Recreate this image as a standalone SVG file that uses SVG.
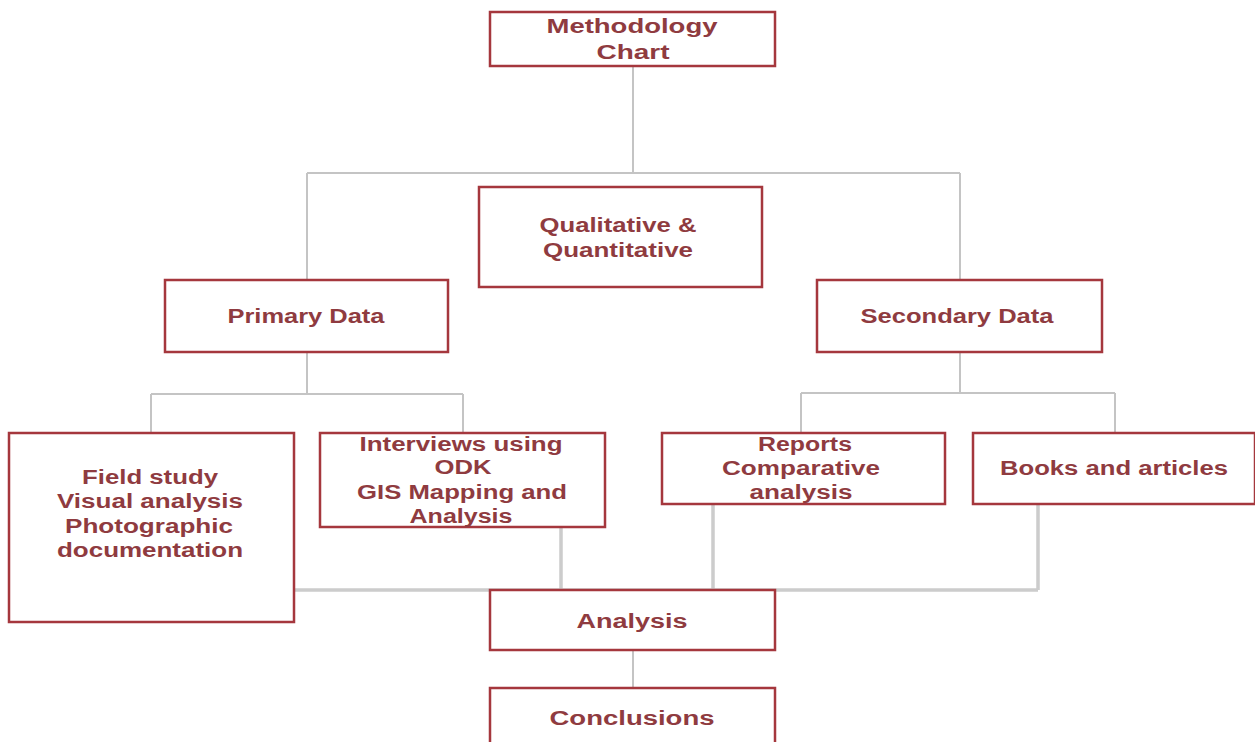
<svg xmlns="http://www.w3.org/2000/svg" width="1255" height="742" viewBox="0 0 1255 742">
<style>
.box{fill:#ffffff;stroke:#a5373d;stroke-width:2.5}
.lbl{font-family:"Liberation Sans",Arial,sans-serif;font-weight:bold;font-size:20px;fill:#8f3b40;text-anchor:middle}
.c1{stroke:#c4c4c4;stroke-width:2;fill:none}
.c2{stroke:#cccccc;stroke-width:3.5;fill:none}
</style>
<rect width="1255" height="742" fill="#ffffff"/>
<g id="connectors">
<path class="c1" d="M633 66V173M307 173H960M307 173V280M960 173V280"/>
<path class="c1" d="M307 352V394M151 394H463M151 394V433M463 394V433"/>
<path class="c1" d="M960 352V393M801 393H1115M801 393V433M1115 393V433"/>
<path class="c2" d="M294 590H1038M561 527V590M713 504V590M1038 504V590"/>
<path class="c1" d="M633 650V688"/>
</g>
<g id="methodology">
<rect class="box" x="490" y="12" width="285" height="54"/>
<text class="lbl" x="632" y="33" textLength="171" lengthAdjust="spacingAndGlyphs">Methodology</text>
<text class="lbl" x="633" y="59" textLength="73" lengthAdjust="spacingAndGlyphs">Chart</text>
</g>
<g id="qualitative">
<rect class="box" x="479" y="187" width="283" height="100"/>
<text class="lbl" x="618" y="232" textLength="157" lengthAdjust="spacingAndGlyphs">Qualitative &amp;</text>
<text class="lbl" x="618" y="257" textLength="150" lengthAdjust="spacingAndGlyphs">Quantitative</text>
</g>
<g id="primary">
<rect class="box" x="165" y="280" width="283" height="72"/>
<text class="lbl" x="306" y="323" textLength="157" lengthAdjust="spacingAndGlyphs">Primary Data</text>
</g>
<g id="secondary">
<rect class="box" x="817" y="280" width="285" height="72"/>
<text class="lbl" x="957" y="323" textLength="193" lengthAdjust="spacingAndGlyphs">Secondary Data</text>
</g>
<g id="field">
<rect class="box" x="9" y="433" width="285" height="189"/>
<text class="lbl" x="150" y="484" textLength="136" lengthAdjust="spacingAndGlyphs">Field study</text>
<text class="lbl" x="150" y="508" textLength="186" lengthAdjust="spacingAndGlyphs">Visual analysis</text>
<text class="lbl" x="149" y="533" textLength="168" lengthAdjust="spacingAndGlyphs">Photographic</text>
<text class="lbl" x="150" y="557" textLength="186" lengthAdjust="spacingAndGlyphs">documentation</text>
</g>
<g id="interviews">
<rect class="box" x="320" y="433" width="285" height="94"/>
<text class="lbl" x="461" y="451" textLength="203" lengthAdjust="spacingAndGlyphs">Interviews using</text>
<text class="lbl" x="463" y="474" textLength="57" lengthAdjust="spacingAndGlyphs">ODK</text>
<text class="lbl" x="462" y="499" textLength="210" lengthAdjust="spacingAndGlyphs">GIS Mapping and</text>
<text class="lbl" x="461" y="523" textLength="103" lengthAdjust="spacingAndGlyphs">Analysis</text>
</g>
<g id="reports">
<rect class="box" x="662" y="433" width="283" height="71"/>
<text class="lbl" x="805" y="451" textLength="94" lengthAdjust="spacingAndGlyphs">Reports</text>
<text class="lbl" x="801" y="475" textLength="158" lengthAdjust="spacingAndGlyphs">Comparative</text>
<text class="lbl" x="801" y="499" textLength="103" lengthAdjust="spacingAndGlyphs">analysis</text>
</g>
<g id="books">
<rect class="box" x="973" y="433" width="282" height="71"/>
<text class="lbl" x="1114" y="475" textLength="228" lengthAdjust="spacingAndGlyphs">Books and articles</text>
</g>
<g id="analysis">
<rect class="box" x="490" y="590" width="285" height="60"/>
<text class="lbl" x="632" y="628" textLength="111" lengthAdjust="spacingAndGlyphs">Analysis</text>
</g>
<g id="conclusions">
<rect class="box" x="490" y="688" width="285" height="70"/>
<text class="lbl" x="632" y="725" textLength="165" lengthAdjust="spacingAndGlyphs">Conclusions</text>
</g>
</svg>
